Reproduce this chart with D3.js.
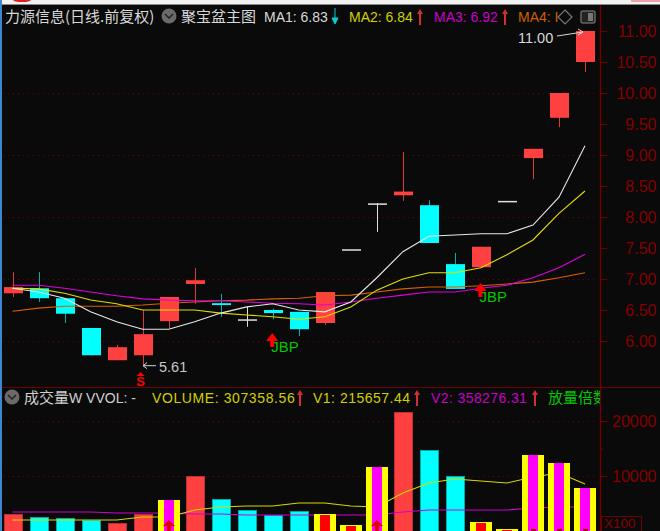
<!DOCTYPE html>
<html lang="zh">
<head>
<meta charset="utf-8">
<title>力源信息</title>
<style>
  html, body { margin: 0; padding: 0; background: #0a0a0a; overflow: hidden; }
  svg { display: block; }
  text { font-family: "Liberation Sans", "Noto Sans CJK SC", sans-serif; font-size: 14px; }
  .cjk { font-family: "Noto Sans CJK SC", sans-serif; font-size: 15px; }
  .axis path { stroke: #6e0000; }
  .axis line { stroke: #6e0000; }
  .axis text { fill: #840000; font-size: 16px; text-anchor: end; }
  .grid { stroke: #6e0000; stroke-width: 1; stroke-dasharray: 1 4; }
  .ma { fill: none; stroke-width: 1.1; }
</style>
</head>
<body>
<svg id="chart" width="660" height="531"></svg>
<script src="https://cdn.jsdelivr.net/npm/d3@7"></script>
<script>
// candles, oldest first
var opens  = [6.77,6.85,6.69,6.21,5.69,5.77,6.32,6.92,6.61,6.35,6.50,6.47,6.29,7.48,8.22,8.35,8.19,7.24,7.19,8.26,8.95,9.60,10.50];
var closes = [6.87,6.69,6.44,5.77,5.90,6.11,6.71,6.98,6.58,6.35,6.45,6.19,6.79,7.48,8.22,8.41,7.58,6.84,7.52,8.26,9.10,10.00,11.00];
var highs  = [7.11,7.11,6.69,6.21,5.94,6.50,6.71,7.18,6.76,6.55,6.52,6.47,6.79,7.48,8.22,9.05,8.27,7.42,7.52,8.26,9.10,10.00,11.00];
var lows   = [6.71,6.63,6.29,5.77,5.69,5.61,6.21,6.60,6.39,6.23,6.35,6.08,6.26,7.48,7.76,8.26,7.58,6.84,7.19,8.26,8.61,9.45,10.34];

var ma1 = [6.85,6.79,6.69,6.47,6.31,6.19,6.19,6.31,6.45,6.55,6.60,6.50,6.47,6.63,7.02,7.44,7.69,7.71,7.73,7.73,7.87,8.32,9.15];
var ma2 = [6.85,6.84,6.77,6.66,6.60,6.50,6.50,6.50,6.45,6.42,6.39,6.35,6.39,6.55,6.82,7.00,7.10,7.10,7.18,7.39,7.63,8.06,8.42];
var ma3 = [6.90,6.90,6.85,6.79,6.73,6.68,6.66,6.65,6.65,6.63,6.61,6.60,6.58,6.63,6.69,6.74,6.79,6.79,6.85,6.90,7.02,7.18,7.40];
var ma4 = [6.48,6.53,6.56,6.56,6.56,6.58,6.61,6.63,6.65,6.66,6.68,6.69,6.73,6.74,6.79,6.84,6.87,6.87,6.89,6.92,6.95,7.02,7.10];

// volume in lots
var volume = [3090,2550,2360,2000,1450,3090,5640,10000,5820,3820,2910,3640,3090,1090,11640,21640,14730,10000,1640,360,13820,12360,7820];
// 0 plain bar, 1 yellow/red, 2 yellow/magenta
var volKind = [0,0,0,0,0,0,2,0,0,0,0,0,1,1,2,0,0,0,1,1,2,2,2];
var v1 = [2000,2000,2000,2000,2000,2550,2550,3820,4360,4550,4550,5090,5090,4550,4360,6910,8730,9450,9090,8730,9820,10550,8550];
var v2 = [3450,3450,3450,3450,3270,3270,3270,3090,3090,2910,2910,2910,2910,2910,2910,3450,3820,3820,3820,3820,4180,4360,4360];

var priceTicks = [6,6.5,7,7.5,8,8.5,9,9.5,10,10.5,11];
var priceGrid = [6,7,8,9,10];
var volTicks = [10000,15000,20000];
var volLabels = [10000,20000];
var jbpAt = [10,18];
var volArrowAt = [6,14];
var volMarkAt = [20,21,22];

var RED = "#ff4040", CYAN = "#00ffff", WHITE = "#e0e0e0";

var svg = d3.select("#chart");

var x = d3.scaleLinear().domain([0, 22]).range([12.5, 585]);
var y = d3.scaleLinear().domain([6, 11]).range([341, 31]);
var yVol = d3.scaleLinear().domain([0, 20000]).range([531, 421]);

// window edges
svg.append("rect").attr("width", 660).attr("height", 4).attr("fill", "#f2f2f2");
svg.append("rect").attr("y", 4).attr("width", 660).attr("height", 1).attr("fill", "#8a8a8a");
svg.append("rect").attr("x", 0).attr("y", 0).attr("width", 2).attr("height", 531).attr("fill", "#3d86d0");
svg.append("ellipse").attr("cx", 22).attr("cy", 0).attr("rx", 9).attr("ry", 2).attr("fill", "#e02020");
svg.append("rect").attr("x", 631).attr("y", 0).attr("width", 29).attr("height", 2).attr("fill", "#f0a0a8");

// grid
svg.selectAll(".gp").data(priceGrid).enter().append("line")
  .attr("class", "grid").attr("x1", 3).attr("x2", 598)
  .attr("y1", function(d){ return Math.round(y(d)) + 0.5; })
  .attr("y2", function(d){ return Math.round(y(d)) + 0.5; });
svg.selectAll(".gv").data(volLabels).enter().append("line")
  .attr("class", "grid").attr("x1", 3).attr("x2", 598)
  .attr("y1", function(d){ return Math.round(yVol(d)) + 0.5; })
  .attr("y2", function(d){ return Math.round(yVol(d)) + 0.5; });

// frame
svg.append("line").attr("x1", 2).attr("x2", 660).attr("y1", 387.5).attr("y2", 387.5).attr("stroke", "#6e0000");
svg.append("line").attr("x1", 600.5).attr("x2", 600.5).attr("y1", 5).attr("y2", 531).attr("stroke", "#6e0000").attr("stroke-width", 1.5);

// axes
var priceAxis = d3.axisRight(y).tickValues(priceTicks).tickFormat(d3.format(".2f")).tickSize(7).tickPadding(0);
var gp = svg.append("g").attr("class", "axis").attr("transform", "translate(600.5,0)").call(priceAxis);
gp.select(".domain").remove();
gp.selectAll("text").attr("x", 56);

var volAxis = d3.axisRight(yVol).tickValues(volTicks)
  .tickFormat(function(d){ return volLabels.indexOf(d) >= 0 ? d : ""; }).tickSize(7);
var gv = svg.append("g").attr("class", "axis").attr("transform", "translate(600.5,0)").call(volAxis);
gv.select(".domain").remove();
gv.selectAll("text").attr("x", 56);
gv.selectAll(".tick").filter(function(d){ return d == 15000; }).select("line").attr("x2", 3);

svg.append("rect").attr("x", 601.5).attr("y", 516.5).attr("width", 40).attr("height", 16)
  .attr("fill", "none").attr("stroke", "#6e0000");
svg.append("text").attr("x", 604).attr("y", 528).attr("fill", "#840000").style("font-size", "13.5px").text("X100");

// volume bars, plain ones under the lines
var idx = d3.range(volume.length);
svg.append("g").selectAll("rect")
  .data(idx.filter(function(i){ return volKind[i] == 0; })).enter().append("rect")
  .attr("x", function(i){ return Math.round(x(i)) - 9; })
  .attr("width", 18)
  .attr("y", function(i){ return Math.round(yVol(volume[i])) + 0.5; })
  .attr("height", function(i){ return 531 - yVol(volume[i]) + 2; })
  .attr("fill", function(i){ return closes[i] > opens[i] ? RED : CYAN; })
  .attr("stroke", function(i){ return closes[i] > opens[i] ? "#b83030" : "#00a8a8"; })
  .attr("shape-rendering", "crispEdges");

var lineVol = function(arr){
  return d3.line().x(function(d, i){ return x(i); }).y(function(d){ return yVol(d); })(arr);
};
svg.append("path").attr("class", "ma").attr("d", lineVol(v2)).attr("stroke", "#d000d0");
svg.append("path").attr("class", "ma").attr("d", lineVol(v1)).attr("stroke", "#d8d800");

// flagged volume bars
var marked = svg.append("g").selectAll("g")
  .data(idx.filter(function(i){ return volKind[i] > 0; })).enter().append("g");
marked.append("rect")
  .attr("x", function(i){ return Math.round(x(i)) - 11; })
  .attr("width", 22)
  .attr("y", function(i){ return Math.round(yVol(volume[i])); })
  .attr("height", function(i){ return 531 - Math.round(yVol(volume[i])); })
  .attr("fill", "#ffff00");
marked.append("rect")
  .attr("x", function(i){ return Math.round(x(i)) - 5; })
  .attr("width", 10)
  .attr("y", function(i){ return Math.round(yVol(volume[i])) + (volKind[i] == 1 ? 1 : 0); })
  .attr("height", function(i){ return 531 - Math.round(yVol(volume[i])); })
  .attr("fill", function(i){ return volKind[i] == 1 ? "#ff0000" : "#ff00ff"; });

// marks at the foot of the volume bars
svg.selectAll(".va").data(volArrowAt).enter().append("path")
  .attr("d", function(i){
    var c = Math.round(x(i));
    return "M" + c + ",520L" + (c + 6) + ",526L" + (c + 2) + ",526L" + (c + 2) + ",531L" + (c - 2) + ",531L" + (c - 2) + ",526L" + (c - 6) + ",526Z";
  }).attr("fill", "#e00000");
svg.selectAll(".vm").data(volMarkAt).enter().append("rect")
  .attr("x", function(i){ return Math.round(x(i)) - 2; })
  .attr("y", 529).attr("width", 5).attr("height", 2).attr("fill", "#b00000");

// candles
var candle = svg.append("g").selectAll("g").data(idx).enter().append("g");
var candleColor = function(i){
  if (opens[i] == closes[i]) return WHITE;
  return closes[i] > opens[i] ? RED : CYAN;
};
candle.append("line")
  .attr("x1", function(i){ return Math.round(x(i)) + 0.5; })
  .attr("x2", function(i){ return Math.round(x(i)) + 0.5; })
  .attr("y1", function(i){ return y(highs[i]); })
  .attr("y2", function(i){ return y(lows[i]); })
  .attr("stroke", function(i){
    if (opens[i] == closes[i]) return WHITE;
    return closes[i] > opens[i] ? "#e03838" : "#00b0b0";
  });
candle.append("rect")
  .attr("x", function(i){ return Math.round(x(i)) - 9; })
  .attr("width", 19)
  .attr("y", function(i){ return y(Math.max(opens[i], closes[i])); })
  .attr("height", function(i){ return Math.max(1.5, Math.abs(y(opens[i]) - y(closes[i]))); })
  .attr("fill", candleColor);

// averages
var lineMa = function(arr){
  return d3.line().x(function(d, i){ return x(i); }).y(function(d){ return y(d); })(arr);
};
svg.append("path").attr("class", "ma").attr("d", lineMa(ma4)).attr("stroke", "#d86000");
svg.append("path").attr("class", "ma").attr("d", lineMa(ma3)).attr("stroke", "#e000e0");
svg.append("path").attr("class", "ma").attr("d", lineMa(ma2)).attr("stroke", "#e0e000");
svg.append("path").attr("class", "ma").attr("d", lineMa(ma1)).attr("stroke", "#e8e8e8");

// JBP flags
jbpAt.forEach(function(i){
  var c = x(i) - 0.5, top = i == 10 ? 333 : 283;
  svg.append("path")
    .attr("d", "M" + c + "," + top + "l6,8h-4v6h-4v-6h-4z")
    .attr("fill", "#ff0000");
  svg.append("text").attr("x", c - 1).attr("y", top + 19).attr("fill", "#00c800").style("font-size", "15px").text("JBP");
});

// S signal under the low
var sx = x(5) - 2;
svg.append("path").attr("d", "M" + sx + ",372l4,4h-8z").attr("fill", "#ff0000");
svg.append("text").attr("x", sx).attr("y", 386).attr("text-anchor", "middle")
  .attr("fill", "#ff0000").style("font-size", "13px").style("font-weight", "bold").text("S");

// high and low labels
var arrowLeft = function(x1, x2, yy){
  svg.append("path").attr("d", "M" + x1 + "," + yy + "L" + x2 + "," + yy + "m4,-3l-4,3l4,3")
    .attr("fill", "none").attr("stroke", "#d0d0d0");
};
arrowLeft(156, 143, y(5.61) + 0.5);
svg.append("text").attr("x", 159).attr("y", 372).attr("fill", "#c8c8c8").style("font-size", "14.5px").text("5.61");
svg.append("text").attr("x", 518).attr("y", 43).attr("fill", "#d8d8d8").style("font-size", "14.5px").text("11.00");
svg.append("path").attr("d", "M557,36L583,32m-5,-3l5,3l-5,3").attr("fill", "none").attr("stroke", "#d8d8d8");

// round chevron buttons
var chevron = function(cx, cy){
  svg.append("circle").attr("cx", cx).attr("cy", cy).attr("r", 7.5).attr("fill", "#6a6a6a");
  svg.append("path").attr("d", "M" + (cx - 4) + "," + (cy - 2) + "l4,4l4,-4")
    .attr("fill", "none").attr("stroke", "#222").attr("stroke-width", 1.5);
};
var arrowUp = function(cx, cy){
  svg.append("path").attr("d", "M" + cx + "," + (cy - 8) + "l3,5h-2v11h-2v-11h-2z").attr("fill", "#d03030");
};

// price legend
svg.append("text").attr("class", "cjk").attr("x", 5).attr("y", 22).attr("fill", "#d8d8d8").text("力源信息(日线.前复权)");
chevron(169, 16);
svg.append("text").attr("class", "cjk").attr("x", 181).attr("y", 22).attr("fill", "#d8d8d8").text("聚宝盆主图");
svg.append("text").attr("x", 264).attr("y", 22).attr("fill", "#d8d8d8").text("MA1: 6.83");
svg.append("path").attr("d", "M335,8v15m-3,-5l3,6l3,-6z").attr("fill", "#00d0d0").attr("stroke", "#00d0d0");
svg.append("text").attr("x", 349).attr("y", 22).attr("fill", "#d0d000").text("MA2: 6.84");
arrowUp(420, 17);
svg.append("text").attr("x", 434).attr("y", 22).attr("fill", "#c800c8").text("MA3: 6.92");
arrowUp(505, 17);
svg.append("text").attr("x", 518).attr("y", 22).attr("fill", "#d06000").text("MA4: I");
svg.append("path").attr("d", "M565,10l7,7l-7,7l-7,-7z").attr("fill", "none").attr("stroke", "#777").attr("stroke-width", 1.2);
svg.append("rect").attr("x", 581).attr("y", 11).attr("width", 14).attr("height", 12).attr("rx", 2)
  .attr("fill", "#222").attr("stroke", "#666").attr("stroke-width", 1.5);
svg.append("rect").attr("x", 588).attr("y", 13).attr("width", 5).attr("height", 8).attr("fill", "#777");

// volume legend
chevron(12, 397);
svg.append("text").attr("class", "cjk").attr("x", 24).attr("y", 403).attr("fill", "#d0d0d0").text("成交量");
svg.append("text").attr("x", 69).attr("y", 403).attr("fill", "#d0d0d0").text("W  VVOL: -");
svg.append("text").attr("x", 152).attr("y", 403).attr("fill", "#d0d000").style("letter-spacing", "0.6px").text("VOLUME: 307358.56");
arrowUp(300, 398);
svg.append("text").attr("x", 313).attr("y", 403).attr("fill", "#d0d000").style("letter-spacing", "0.5px").text("V1: 215657.44");
arrowUp(417, 398);
svg.append("text").attr("x", 431).attr("y", 403).attr("fill", "#c800c8").style("letter-spacing", "0.4px").text("V2: 358276.31");
arrowUp(535, 398);
svg.append("clipPath").attr("id", "legendClip").append("rect").attr("x", 540).attr("y", 388).attr("width", 60).attr("height", 22);
svg.append("text").attr("class", "cjk").attr("x", 548).attr("y", 403).attr("fill", "#00c800")
  .attr("clip-path", "url(#legendClip)").text("放量倍数");
</script>
</body>
</html>
